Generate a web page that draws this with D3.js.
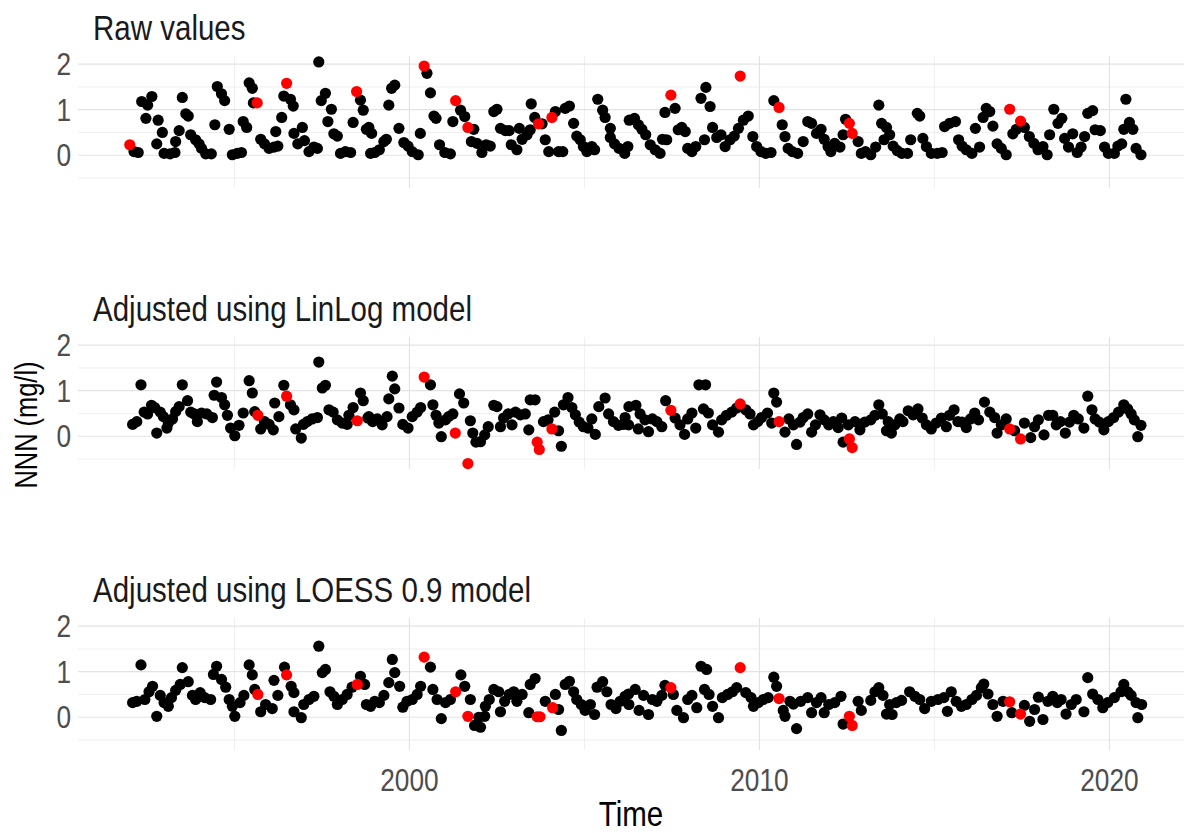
<!DOCTYPE html>
<html><head><meta charset="utf-8">
<script src="https://cdn.jsdelivr.net/npm/d3@7"></script>
<style>html,body{margin:0;padding:0;background:#fff;} svg{display:block;}</style>
</head><body>
<svg id="chart" width="1192" height="833"></svg>
<script>
const panelTitles = ["Raw values", "Adjusted using LinLog model", "Adjusted using LOESS 0.9 model"];
const xTickYears = [2000, 2010, 2020];
const xMinorYears = [1995, 2005, 2015];
const yTicks = [0, 1, 2];
const yMinor = [-0.5, 0.5, 1.5];
const xTitle = "Time";
const yTitle = "NNN (mg/l)";

// [decimal year, NNN in mg/l]
const rawValues = [[1992.13,0.08],[1992.25,0.06],[1992.35,1.18],[1992.47,0.81],[1992.52,1.10],[1992.64,1.29],[1992.78,0.25],[1992.82,0.77],[1992.94,0.50],[1992.99,0.04],[1993.16,0.03],[1993.30,0.06],[1993.32,0.30],[1993.42,0.54],[1993.51,1.27],[1993.61,0.91],[1993.68,0.86],[1993.75,0.45],[1993.89,0.34],[1993.99,0.25],[1994.06,0.15],[1994.18,0.03],[1994.34,0.03],[1994.44,0.67],[1994.51,1.51],[1994.63,1.35],[1994.72,1.20],[1994.85,0.57],[1994.94,0.01],[1995.08,0.04],[1995.20,0.06],[1995.25,0.74],[1995.35,0.61],[1995.42,1.59],[1995.51,1.47],[1995.54,1.15],[1995.75,0.35],[1995.86,0.25],[1995.99,0.15],[1996.13,0.18],[1996.18,0.52],[1996.24,0.20],[1996.35,0.83],[1996.41,1.30],[1996.60,1.23],[1996.68,1.08],[1996.70,0.48],[1996.81,0.25],[1996.94,0.61],[1997.00,0.32],[1997.13,0.08],[1997.27,0.18],[1997.37,0.15],[1997.41,2.05],[1997.48,1.20],[1997.60,1.36],[1997.67,0.74],[1997.77,1.01],[1997.84,0.47],[1997.94,0.42],[1998.03,0.04],[1998.17,0.08],[1998.32,0.06],[1998.39,0.72],[1998.60,1.21],[1998.68,0.99],[1998.77,0.57],[1998.84,0.61],[1998.89,0.04],[1998.92,0.48],[1999.01,0.06],[1999.14,0.12],[1999.27,0.30],[1999.34,0.35],[1999.41,1.10],[1999.49,1.47],[1999.58,1.54],[1999.70,0.59],[1999.84,0.28],[1999.96,0.20],[2000.08,0.08],[2000.25,0.01],[2000.31,0.48],[2000.50,1.80],[2000.60,1.37],[2000.70,0.86],[2000.76,0.81],[2000.86,0.23],[2001.01,0.06],[2001.17,0.03],[2001.24,0.74],[2001.46,0.99],[2001.58,0.85],[2001.77,0.30],[2001.84,0.57],[2001.93,0.26],[2002.07,0.06],[2002.19,0.23],[2002.31,0.20],[2002.41,0.96],[2002.50,1.01],[2002.60,0.59],[2002.74,0.54],[2002.85,0.54],[2002.91,0.23],[2003.07,0.12],[2003.14,0.59],[2003.22,0.35],[2003.36,0.45],[2003.45,0.56],[2003.48,1.13],[2003.58,0.83],[2003.79,0.69],[2003.88,0.34],[2003.98,0.08],[2004.17,0.96],[2004.26,0.08],[2004.38,0.08],[2004.45,1.03],[2004.57,1.08],[2004.69,0.70],[2004.78,0.42],[2004.88,0.34],[2004.97,0.19],[2005.07,0.08],[2005.21,0.19],[2005.29,0.12],[2005.38,1.23],[2005.52,0.99],[2005.59,0.83],[2005.74,0.59],[2005.74,0.39],[2005.86,0.25],[2005.99,0.15],[2006.15,0.04],[2006.24,0.19],[2006.28,0.77],[2006.43,0.81],[2006.54,0.67],[2006.64,0.57],[2006.75,0.45],[2006.88,0.23],[2007.02,0.12],[2007.16,0.04],[2007.23,0.35],[2007.30,0.94],[2007.35,0.34],[2007.59,1.03],[2007.68,0.56],[2007.78,0.61],[2007.88,0.52],[2007.95,0.15],[2008.07,0.08],[2008.18,0.19],[2008.33,1.25],[2008.43,0.34],[2008.47,1.49],[2008.59,1.07],[2008.66,0.61],[2008.78,0.39],[2008.90,0.45],[2009.02,0.19],[2009.16,0.34],[2009.28,0.42],[2009.40,0.59],[2009.54,0.77],[2009.68,0.86],[2009.81,0.41],[2009.92,0.19],[2010.04,0.08],[2010.18,0.04],[2010.33,0.06],[2010.41,1.20],[2010.65,0.67],[2010.73,0.41],[2010.82,0.15],[2010.94,0.08],[2011.09,0.04],[2011.25,0.30],[2011.38,0.74],[2011.49,0.70],[2011.63,0.48],[2011.76,0.57],[2011.85,0.35],[2011.96,0.19],[2012.04,0.08],[2012.15,0.26],[2012.30,0.18],[2012.39,0.45],[2012.46,0.79],[2012.82,0.30],[2012.91,0.04],[2013.03,0.08],[2013.18,0.01],[2013.32,0.18],[2013.41,1.10],[2013.49,0.70],[2013.56,0.34],[2013.63,0.61],[2013.72,0.45],[2013.82,0.20],[2013.94,0.10],[2014.07,0.04],[2014.23,0.04],[2014.32,0.34],[2014.51,0.92],[2014.58,0.86],[2014.67,0.37],[2014.77,0.19],[2014.91,0.04],[2015.08,0.04],[2015.22,0.06],[2015.29,0.63],[2015.43,0.70],[2015.60,0.74],[2015.69,0.34],[2015.79,0.20],[2015.91,0.12],[2016.07,0.04],[2016.17,0.59],[2016.29,0.18],[2016.39,0.83],[2016.48,1.03],[2016.58,0.96],[2016.67,0.64],[2016.79,0.25],[2016.91,0.15],[2017.05,0.01],[2017.24,0.47],[2017.34,0.57],[2017.57,0.61],[2017.71,0.41],[2017.84,0.26],[2017.96,0.12],[2018.10,0.19],[2018.22,0.01],[2018.29,0.45],[2018.41,1.01],[2018.53,0.70],[2018.64,0.81],[2018.72,0.37],[2018.83,0.18],[2018.95,0.47],[2019.08,0.06],[2019.19,0.18],[2019.29,0.41],[2019.38,0.92],[2019.52,0.98],[2019.59,0.56],[2019.74,0.54],[2019.86,0.18],[2019.97,0.04],[2020.14,0.04],[2020.24,0.20],[2020.35,0.25],[2020.41,0.57],[2020.47,1.23],[2020.57,0.72],[2020.67,0.57],[2020.76,0.15],[2020.90,0.01]];
const rawFlagged = [[1992.01,0.23],[1995.65,1.15],[1996.49,1.58],[1998.49,1.40],[2000.42,1.96],[2001.32,1.20],[2001.67,0.61],[2003.69,0.69],[2004.07,0.83],[2007.47,1.32],[2009.45,1.74],[2010.56,1.05],[2012.57,0.70],[2012.65,0.48],[2017.15,1.01],[2017.46,0.75]];

const linlogValues = [[1992.09,0.26],[1992.21,0.32],[1992.33,1.13],[1992.42,0.53],[1992.52,0.49],[1992.63,0.68],[1992.72,0.63],[1992.78,0.07],[1992.88,0.53],[1992.97,0.43],[1993.07,0.18],[1993.11,0.29],[1993.23,0.38],[1993.32,0.54],[1993.42,0.65],[1993.51,1.13],[1993.66,0.78],[1993.75,0.53],[1993.85,0.49],[1993.94,0.32],[1994.06,0.51],[1994.21,0.49],[1994.37,0.41],[1994.42,0.90],[1994.49,1.19],[1994.63,0.85],[1994.72,0.69],[1994.80,0.46],[1994.89,0.18],[1995.01,0.01],[1995.13,0.24],[1995.25,0.51],[1995.42,1.22],[1995.51,0.95],[1995.58,0.54],[1995.75,0.16],[1995.86,0.32],[1995.99,0.26],[1996.11,0.14],[1996.15,0.73],[1996.27,0.43],[1996.41,1.12],[1996.60,0.69],[1996.70,0.58],[1996.75,0.16],[1996.91,-0.04],[1996.97,0.26],[1997.08,0.32],[1997.22,0.38],[1997.37,0.41],[1997.41,1.63],[1997.51,1.06],[1997.60,1.12],[1997.70,0.58],[1997.82,0.53],[1997.94,0.36],[1998.08,0.29],[1998.22,0.26],[1998.27,0.46],[1998.39,0.63],[1998.60,0.95],[1998.68,0.78],[1998.81,0.40],[1998.84,0.43],[1998.95,0.32],[1999.08,0.38],[1999.22,0.25],[1999.36,0.43],[1999.41,0.82],[1999.51,1.32],[1999.58,1.04],[1999.70,0.62],[1999.81,0.26],[1999.96,0.18],[2000.08,0.43],[2000.22,0.53],[2000.32,0.63],[2000.60,1.13],[2000.67,0.69],[2000.76,0.46],[2000.84,0.29],[2000.91,-0.01],[2001.03,0.36],[2001.12,0.43],[2001.24,0.49],[2001.43,0.93],[2001.55,0.73],[2001.74,0.34],[2001.81,0.07],[2001.90,-0.13],[2002.03,-0.12],[2002.15,0.03],[2002.25,0.21],[2002.41,0.68],[2002.50,0.65],[2002.60,0.21],[2002.69,0.40],[2002.82,0.49],[2002.93,0.25],[2003.03,0.53],[2003.17,0.47],[2003.31,0.49],[2003.41,0.14],[2003.45,0.80],[2003.59,0.80],[2003.83,0.32],[2003.96,0.36],[2004.15,0.53],[2004.26,0.12],[2004.34,-0.22],[2004.40,0.69],[2004.53,0.85],[2004.64,0.63],[2004.74,0.47],[2004.85,0.31],[2004.97,0.21],[2005.10,0.18],[2005.21,0.38],[2005.31,0.04],[2005.41,0.65],[2005.59,0.84],[2005.69,0.49],[2005.83,0.32],[2005.97,0.24],[2006.12,0.26],[2006.16,0.41],[2006.26,0.25],[2006.27,0.65],[2006.47,0.68],[2006.54,0.16],[2006.59,0.49],[2006.73,0.36],[2006.83,0.10],[2006.94,0.38],[2007.07,0.32],[2007.21,0.21],[2007.32,0.78],[2007.59,0.40],[2007.73,0.25],[2007.86,0.04],[2007.95,0.38],[2008.07,0.51],[2008.18,0.18],[2008.27,1.13],[2008.40,0.60],[2008.46,1.13],[2008.54,0.51],[2008.66,0.25],[2008.83,0.09],[2008.92,0.36],[2009.06,0.46],[2009.21,0.53],[2009.35,0.62],[2009.61,0.58],[2009.73,0.49],[2009.83,0.25],[2009.95,0.32],[2010.06,0.41],[2010.23,0.51],[2010.35,0.29],[2010.41,0.95],[2010.49,0.75],[2010.73,0.09],[2010.84,0.38],[2010.97,0.25],[2011.06,-0.18],[2011.16,0.31],[2011.25,0.41],[2011.38,0.49],[2011.49,0.09],[2011.60,0.25],[2011.73,0.47],[2011.85,0.36],[2011.98,0.25],[2012.11,0.32],[2012.25,0.19],[2012.35,0.40],[2012.39,-0.13],[2012.54,0.25],[2012.73,0.32],[2012.87,0.14],[2013.01,0.31],[2013.18,0.36],[2013.30,0.46],[2013.41,0.69],[2013.51,0.49],[2013.63,0.12],[2013.68,0.32],[2013.77,0.07],[2013.87,0.25],[2014.01,0.38],[2014.10,0.32],[2014.25,0.56],[2014.39,0.47],[2014.53,0.60],[2014.65,0.40],[2014.77,0.25],[2014.91,0.16],[2015.05,0.29],[2015.20,0.40],[2015.34,0.21],[2015.43,0.46],[2015.56,0.58],[2015.67,0.32],[2015.79,0.31],[2015.91,0.19],[2016.03,0.38],[2016.15,0.51],[2016.26,0.36],[2016.43,0.75],[2016.58,0.53],[2016.72,0.41],[2016.79,0.07],[2016.91,0.25],[2017.05,0.38],[2017.29,0.12],[2017.57,0.29],[2017.75,-0.03],[2017.86,0.21],[2017.97,0.36],[2018.13,0.03],[2018.26,0.46],[2018.38,0.46],[2018.48,0.25],[2018.60,0.32],[2018.74,0.07],[2018.86,0.31],[2018.98,0.46],[2019.11,0.38],[2019.27,0.18],[2019.38,0.88],[2019.50,0.58],[2019.59,0.38],[2019.71,0.31],[2019.84,0.14],[2019.97,0.32],[2020.12,0.41],[2020.26,0.53],[2020.41,0.69],[2020.52,0.60],[2020.62,0.49],[2020.71,0.36],[2020.81,-0.01],[2020.90,0.24]];
const linlogFlagged = [[1995.67,0.46],[1996.49,0.88],[1998.51,0.34],[2000.42,1.30],[2001.31,0.07],[2001.67,-0.60],[2003.65,-0.13],[2003.71,-0.29],[2004.07,0.16],[2007.47,0.57],[2009.45,0.71],[2010.56,0.32],[2012.57,-0.06],[2012.65,-0.25],[2017.15,0.16],[2017.46,-0.06]];

const loessValues = [[1992.09,0.32],[1992.21,0.35],[1992.33,1.15],[1992.44,0.39],[1992.56,0.56],[1992.66,0.68],[1992.78,0.02],[1992.88,0.48],[1992.99,0.32],[1993.11,0.24],[1993.20,0.43],[1993.32,0.59],[1993.45,0.72],[1993.51,1.09],[1993.68,0.78],[1993.80,0.48],[1993.89,0.39],[1994.02,0.54],[1994.15,0.43],[1994.32,0.39],[1994.40,0.94],[1994.49,1.12],[1994.63,0.83],[1994.75,0.66],[1994.85,0.39],[1994.94,0.24],[1995.01,0.02],[1995.16,0.32],[1995.27,0.48],[1995.42,1.15],[1995.51,0.93],[1995.58,0.61],[1995.75,0.12],[1995.89,0.28],[1996.08,0.19],[1996.13,0.81],[1996.24,0.48],[1996.43,1.10],[1996.62,0.68],[1996.70,0.54],[1996.70,0.12],[1996.91,-0.01],[1996.98,0.28],[1997.13,0.39],[1997.27,0.46],[1997.41,1.56],[1997.51,0.98],[1997.60,1.05],[1997.73,0.56],[1997.84,0.46],[1997.94,0.28],[1998.08,0.39],[1998.22,0.50],[1998.36,0.66],[1998.60,0.90],[1998.72,0.72],[1998.77,0.28],[1998.89,0.24],[1999.01,0.35],[1999.14,0.32],[1999.27,0.48],[1999.41,0.76],[1999.51,1.27],[1999.58,0.98],[1999.72,0.68],[1999.81,0.22],[1999.93,0.35],[2000.08,0.39],[2000.22,0.50],[2000.32,0.68],[2000.60,1.10],[2000.67,0.61],[2000.79,0.39],[2000.91,-0.03],[2001.03,0.32],[2001.17,0.39],[2001.47,0.93],[2001.58,0.68],[2001.74,0.39],[2001.86,-0.18],[2001.98,0.00],[2002.03,-0.22],[2002.15,0.02],[2002.17,0.24],[2002.28,0.39],[2002.41,0.61],[2002.55,0.56],[2002.60,0.12],[2002.72,0.35],[2002.85,0.50],[2002.98,0.56],[2003.07,0.35],[2003.22,0.50],[2003.41,0.10],[2003.45,0.72],[2003.59,0.85],[2003.88,0.35],[2004.17,0.50],[2004.26,0.17],[2004.34,-0.29],[2004.45,0.72],[2004.57,0.79],[2004.69,0.56],[2004.78,0.39],[2004.91,0.28],[2005.02,0.15],[2005.17,0.28],[2005.29,0.06],[2005.36,0.66],[2005.52,0.78],[2005.64,0.56],[2005.76,0.28],[2005.90,0.19],[2006.02,0.35],[2006.16,0.46],[2006.26,0.51],[2006.27,0.28],[2006.45,0.61],[2006.56,0.15],[2006.69,0.48],[2006.83,0.06],[2006.94,0.39],[2007.07,0.35],[2007.21,0.48],[2007.30,0.70],[2007.54,0.50],[2007.64,0.15],[2007.83,-0.01],[2007.95,0.39],[2008.07,0.48],[2008.21,0.21],[2008.33,1.12],[2008.43,0.61],[2008.49,1.05],[2008.56,0.50],[2008.66,0.24],[2008.83,-0.01],[2008.94,0.43],[2009.09,0.50],[2009.23,0.56],[2009.35,0.65],[2009.61,0.54],[2009.76,0.43],[2009.83,0.24],[2009.97,0.32],[2010.11,0.39],[2010.25,0.43],[2010.41,0.88],[2010.49,0.68],[2010.68,0.15],[2010.73,0.02],[2010.87,0.35],[2010.97,0.29],[2011.06,-0.25],[2011.18,0.35],[2011.38,0.43],[2011.49,0.10],[2011.63,0.32],[2011.76,0.43],[2011.85,0.10],[2011.98,0.28],[2012.15,0.32],[2012.33,0.46],[2012.39,-0.15],[2012.82,0.35],[2012.91,0.15],[2013.18,0.37],[2013.30,0.56],[2013.41,0.65],[2013.53,0.48],[2013.63,0.07],[2013.72,0.28],[2013.79,0.06],[2013.91,0.32],[2014.06,0.37],[2014.29,0.56],[2014.44,0.46],[2014.58,0.39],[2014.72,0.19],[2014.91,0.35],[2015.10,0.39],[2015.27,0.43],[2015.37,0.13],[2015.48,0.56],[2015.62,0.35],[2015.77,0.24],[2015.91,0.28],[2016.07,0.39],[2016.20,0.48],[2016.34,0.65],[2016.41,0.73],[2016.53,0.51],[2016.67,0.28],[2016.79,0.02],[2016.96,0.35],[2017.21,0.10],[2017.57,0.26],[2017.72,-0.09],[2017.86,0.17],[2017.97,0.44],[2018.10,-0.05],[2018.24,0.35],[2018.38,0.46],[2018.51,0.32],[2018.62,0.39],[2018.76,0.07],[2018.91,0.28],[2019.05,0.39],[2019.27,0.12],[2019.38,0.87],[2019.52,0.51],[2019.67,0.39],[2019.81,0.21],[2019.95,0.32],[2020.14,0.43],[2020.33,0.56],[2020.41,0.72],[2020.52,0.56],[2020.62,0.48],[2020.76,0.32],[2020.81,-0.01],[2020.92,0.28]];
const loessFlagged = [[1995.67,0.50],[1996.49,0.93],[1998.51,0.72],[2000.42,1.32],[2001.32,0.56],[2001.67,0.02],[2003.65,0.01],[2003.73,0.01],[2004.09,0.21],[2007.47,0.65],[2009.45,1.09],[2010.56,0.41],[2012.57,0.02],[2012.65,-0.18],[2017.15,0.34],[2017.46,0.07]];

const panels = [
  { title: panelTitles[0], points: rawValues, flagged: rawFlagged },
  { title: panelTitles[1], points: linlogValues, flagged: linlogFlagged },
  { title: panelTitles[2], points: loessValues, flagged: loessFlagged }
];

const FONT = "'Liberation Sans', Arial, sans-serif";
const NARROW = 0.82; // horizontal squeeze for the condensed lettering
const svg = d3.select("#chart");
const plotLeft = 78, plotRight = 1184;
const panelTop = [56, 337, 618];
const panelH = 132;
const R = 5.6;

const x = d3.scaleLinear().domain([1990.53, 2022.13]).range([plotLeft, plotRight]);

// condensed text: placed at (tx, ty), squeezed along its own baseline
function label(parent, tx, ty, str, size, fill, anchor, rotate) {
  const g = parent.append("g")
    .attr("transform", `translate(${tx},${ty})${rotate ? ` rotate(${rotate})` : ""} scale(${NARROW},1)`);
  g.append("text")
    .attr("text-anchor", anchor)
    .attr("font-family", FONT).attr("font-size", size).attr("fill", fill)
    .text(str);
  return g;
}

panels.forEach((p, i) => {
  const top = panelTop[i];
  const y = d3.scaleLinear().domain([-0.72, 2.18]).range([top + panelH, top]);
  const g = svg.append("g");

  // minor grid
  g.selectAll(".hminor").data(yMinor).join("line")
    .attr("x1", plotLeft).attr("x2", plotRight)
    .attr("y1", d => y(d)).attr("y2", d => y(d))
    .attr("stroke", "#ececec").attr("stroke-width", 0.8);
  g.selectAll(".vminor").data(xMinorYears).join("line")
    .attr("x1", d => x(d)).attr("x2", d => x(d))
    .attr("y1", top).attr("y2", top + panelH)
    .attr("stroke", "#ececec").attr("stroke-width", 0.8);
  // major grid
  g.selectAll(".hmajor").data(yTicks).join("line")
    .attr("x1", plotLeft).attr("x2", plotRight)
    .attr("y1", d => y(d)).attr("y2", d => y(d))
    .attr("stroke", "#e3e3e3").attr("stroke-width", 1.2);
  g.selectAll(".vmajor").data(xTickYears).join("line")
    .attr("x1", d => x(d)).attr("x2", d => x(d))
    .attr("y1", top).attr("y2", top + panelH)
    .attr("stroke", "#e3e3e3").attr("stroke-width", 1.2);

  // points, flagged samples on top in red
  g.selectAll(".pt").data(p.points).join("circle")
    .attr("cx", d => x(d[0])).attr("cy", d => y(d[1])).attr("r", R)
    .attr("fill", "#000");
  g.selectAll(".flag").data(p.flagged).join("circle")
    .attr("cx", d => x(d[0])).attr("cy", d => y(d[1])).attr("r", R)
    .attr("fill", "#ff0000");

  // y tick labels
  yTicks.forEach(t => label(g, 71, y(t) + 11, String(t), 32, "#4d4d4d", "end"));

  // strip title
  label(g, 93, top - 16, p.title, 36, "#1a1a1a", "start");
});

// x tick labels under the bottom panel
xTickYears.forEach(t => label(svg, x(t), 791, String(t), 32, "#4d4d4d", "middle"));

label(svg, (plotLeft + plotRight) / 2, 826, xTitle, 36, "#000", "middle");
label(svg, 37, 425, yTitle, 31, "#000", "middle", -90);
</script>
</body></html>
